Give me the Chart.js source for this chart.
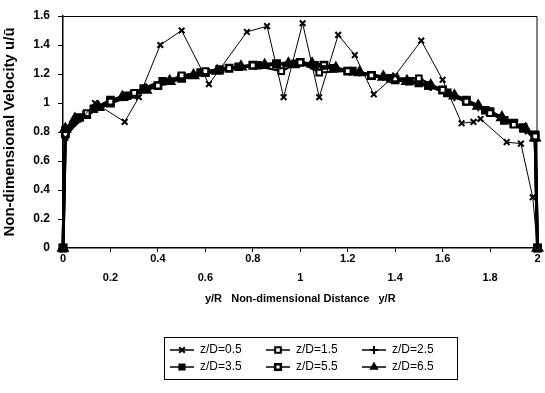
<!DOCTYPE html>
<html>
<head>
<meta charset="utf-8">
<script src="https://cdn.jsdelivr.net/npm/chart.js@4.4.0/dist/chart.umd.min.js"></script>
<style>
  html, body { margin: 0; padding: 0; background: #fff; }
  canvas { display: block; }
</style>
</head>
<body>
<canvas id="velocityChart" width="545" height="393"></canvas>
<script>
// values (y/R against u/ū)
const seriesNames = ['z/D=0.5', 'z/D=1.5', 'z/D=2.5', 'z/D=3.5', 'z/D=5.5', 'z/D=6.5'];

const x05 = [0, 0.01, 0.135, 0.26, 0.32, 0.41, 0.50, 0.615, 0.775, 0.86, 0.93, 1.01, 1.08, 1.16, 1.23, 1.31, 1.40, 1.51, 1.60, 1.68, 1.73, 1.76, 1.87, 1.93, 1.98, 2.0];
const y05 = [0, 0.76, 1.00, 0.87, 1.04, 1.40, 1.50, 1.13, 1.49, 1.53, 1.04, 1.55, 1.04, 1.47, 1.33, 1.06, 1.19, 1.43, 1.16, 0.86, 0.87, 0.89, 0.73, 0.72, 0.35, 0];

const x15 = [0, 0.01, 0.1, 0.2, 0.3, 0.4, 0.5, 0.6, 0.7, 0.8, 0.92, 1.0, 1.08, 1.2, 1.3, 1.4, 1.5, 1.6, 1.7, 1.8, 1.9, 1.99, 2];
const y15 = [0, 0.78, 0.93, 1.01, 1.07, 1.12, 1.19, 1.22, 1.24, 1.26, 1.22, 1.28, 1.21, 1.22, 1.19, 1.17, 1.17, 1.09, 1.01, 0.93, 0.85, 0.77, 0];

const x25 = [0, 0.01, 0.05, 0.15, 0.25, 0.35, 0.45, 0.55, 0.65, 0.75, 0.85, 0.95, 1.05, 1.15, 1.25, 1.35, 1.45, 1.55, 1.65, 1.75, 1.85, 1.95, 1.99, 2];
const y25 = [0, 0.80, 0.88, 0.98, 1.04, 1.10, 1.16, 1.20, 1.23, 1.25, 1.27, 1.28, 1.27, 1.24, 1.21, 1.18, 1.15, 1.11, 1.04, 0.97, 0.89, 0.81, 0.74, 0];

const x35 = [0, 0.01, 0.07, 0.13, 0.2, 0.27, 0.34, 0.42, 0.5, 0.58, 0.66, 0.74, 0.82, 0.9, 0.98, 1.06, 1.14, 1.22, 1.3, 1.38, 1.46, 1.54, 1.62, 1.7, 1.78, 1.86, 1.94, 1.99, 2];
const y35 = [0, 0.81, 0.90, 0.96, 1.02, 1.05, 1.10, 1.15, 1.18, 1.21, 1.23, 1.25, 1.26, 1.27, 1.27, 1.26, 1.24, 1.22, 1.19, 1.17, 1.15, 1.12, 1.07, 1.01, 0.95, 0.88, 0.83, 0.77, 0];

const x55 = [0, 0.01, 0.1, 0.2, 0.3, 0.4, 0.5, 0.6, 0.7, 0.8, 0.9, 1.0, 1.1, 1.2, 1.3, 1.4, 1.5, 1.6, 1.7, 1.8, 1.9, 1.99, 2];
const y55 = [0, 0.79, 0.92, 1.00, 1.06, 1.12, 1.17, 1.21, 1.24, 1.26, 1.27, 1.28, 1.26, 1.22, 1.19, 1.16, 1.14, 1.09, 1.02, 0.94, 0.86, 0.78, 0];

const x65 = [0, 0.01, 0.05, 0.15, 0.25, 0.35, 0.45, 0.55, 0.65, 0.75, 0.85, 0.95, 1.05, 1.15, 1.25, 1.35, 1.45, 1.55, 1.65, 1.75, 1.85, 1.95, 1.99, 2];
const y65 = [0, 0.82, 0.89, 0.97, 1.04, 1.09, 1.15, 1.19, 1.22, 1.25, 1.26, 1.27, 1.27, 1.24, 1.21, 1.18, 1.15, 1.12, 1.05, 0.98, 0.90, 0.82, 0.76, 0];

const xTickLabels = ['0', '0.2', '0.4', '0.6', '0.8', '1', '1.2', '1.4', '1.6', '1.8', '2'];
const yTickLabels = ['0', '0.2', '0.4', '0.6', '0.8', '1', '1.2', '1.4', '1.6'];

function pts(xs, ys) {
    return xs.map((x, i) => ({ x: x, y: ys[i] }));
}

const black = '#000';
const tickFont = { family: 'Liberation Sans', size: 12, weight: 'bold' };

// legend drawn as a boxed 3 x 2 grid under the plot
const boxLegend = {
    id: 'boxLegend',
    afterDraw(chart) {
        const ctx = chart.ctx;
        const left = 164, top = 337, w = 293, h = 42;
        ctx.save();
        ctx.strokeStyle = black;
        ctx.lineWidth = 1;
        ctx.strokeRect(left + 0.5, top + 0.5, w, h);
        ctx.font = '12px "Liberation Sans"';
        ctx.textBaseline = 'middle';
        chart.data.datasets.forEach((ds, i) => {
            const x0 = left + 6 + (i % 3) * 96;
            const y = top + 13 + Math.floor(i / 3) * 17;
            ctx.strokeStyle = black;
            ctx.lineWidth = 1.5;
            ctx.beginPath();
            ctx.moveTo(x0, y);
            ctx.lineTo(x0 + 24, y);
            ctx.stroke();
            ctx.fillStyle = ds.pointBackgroundColor;
            ctx.lineWidth = ds.pointBorderWidth;
            Chart.helpers.drawPoint(ctx, {
                pointStyle: ds.pointStyle,
                radius: 4,
                borderWidth: ds.pointBorderWidth,
                rotation: 0
            }, x0 + 12, y);
            ctx.fillStyle = black;
            ctx.fillText(ds.label, x0 + 30, y);
        });
        ctx.restore();
    }
};

// thin frame on the top and right of the plot area
const frame = {
    id: 'frame',
    beforeDatasetsDraw(chart) {
        const a = chart.chartArea;
        const ctx = chart.ctx;
        ctx.save();
        ctx.strokeStyle = black;
        ctx.lineWidth = 1;
        ctx.beginPath();
        ctx.moveTo(a.left, a.top + 0.5);
        ctx.lineTo(a.right - 0.5, a.top + 0.5);
        ctx.lineTo(a.right - 0.5, a.bottom);
        ctx.stroke();
        ctx.restore();
    }
};

function series(label, xs, ys, style, fill, radius, lineW, pointW) {
    return {
        label: label,
        data: pts(xs, ys),
        borderColor: black,
        borderWidth: lineW,
        pointStyle: style,
        pointRadius: radius,
        pointBorderWidth: pointW,
        pointBorderColor: black,
        pointBackgroundColor: fill,
        tension: 0,
        clip: false
    };
}

new Chart(document.getElementById('velocityChart'), {
    type: 'line',
    data: {
        datasets: [
            series(seriesNames[0], x05, y05, 'crossRot', black, 4, 1, 2),
            series(seriesNames[1], x15, y15, 'rect', '#fff', 4, 2, 2),
            series(seriesNames[2], x25, y25, 'cross', black, 4, 1.5, 2),
            series(seriesNames[3], x35, y35, 'rect', black, 5, 3, 1.5),
            series(seriesNames[4], x55, y55, 'rect', '#fff', 4.5, 3, 2.5),
            series(seriesNames[5], x65, y65, 'triangle', black, 6, 3, 1.5)
        ]
    },
    options: {
        responsive: false,
        animation: false,
        layout: {
            padding: { top: 16, right: 7, bottom: 85, left: 0 }
        },
        plugins: {
            legend: { display: false },
            tooltip: { enabled: false }
        },
        scales: {
            x: {
                type: 'linear',
                min: 0,
                max: 2,
                afterFit: (scale) => { scale.height = 60; },
                ticks: {
                    stepSize: 0.2,
                    autoSkip: false,
                    maxRotation: 0,
                    padding: -3,
                    color: black,
                    font: Object.assign({}, tickFont, { size: 11, lineHeight: 1.75 }),
                    callback: (v, i) => i % 2 === 0 ? xTickLabels[i] : ['', xTickLabels[i]]
                },
                grid: { drawOnChartArea: false, tickLength: 4, color: black },
                border: { color: black, width: 1.5 },
                title: {
                    display: true,
                    text: 'y/R   Non-dimensional Distance   y/R',
                    color: black,
                    font: Object.assign({}, tickFont, { size: 11 }),
                    padding: { top: 0, bottom: 2 }
                }
            },
            y: {
                min: 0,
                max: 1.6,
                afterFit: (scale) => { scale.width = 63; },
                ticks: {
                    stepSize: 0.2,
                    padding: 8,
                    color: black,
                    font: tickFont,
                    callback: (v, i) => yTickLabels[i]
                },
                grid: { drawOnChartArea: false, tickLength: 5, color: black },
                border: { color: black, width: 1.5 },
                title: {
                    display: true,
                    text: 'Non-dimensional Velocity u/ū',
                    color: black,
                    font: { family: 'Liberation Sans', size: 15, weight: 'bold' },
                    padding: { top: 1, bottom: 2 }
                }
            }
        }
    },
    plugins: [frame, boxLegend]
});
</script>
</body>
</html>
